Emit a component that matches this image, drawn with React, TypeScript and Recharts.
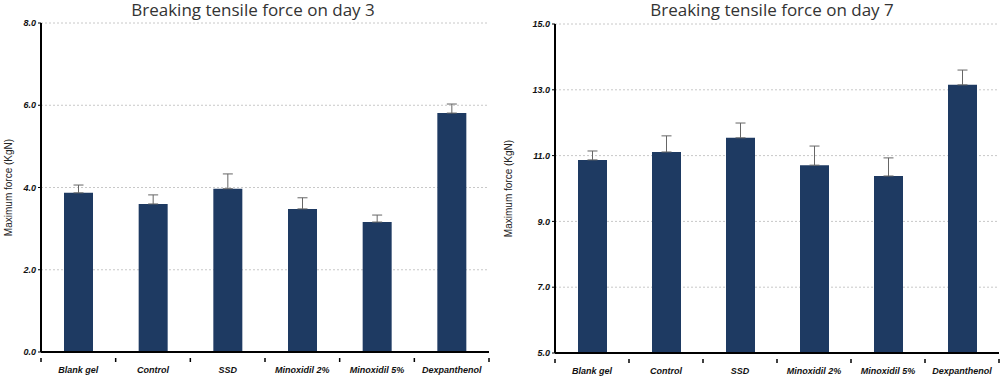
import { BarChart, Bar, XAxis, YAxis, CartesianGrid, ErrorBar } from "recharts";

const categories = ["Blank gel", "Control", "SSD", "Minoxidil 2%", "Minoxidil 5%", "Dexpanthenol"];

const day3Values = [3.87, 3.6, 3.97, 3.48, 3.16, 5.81];
const day3Errors = [0.19, 0.22, 0.36, 0.27, 0.17, 0.22];
const day3Ticks = [0, 2, 4, 6, 8];

const day7Values = [10.87, 11.11, 11.54, 10.71, 10.38, 13.15];
const day7Errors = [0.27, 0.49, 0.45, 0.58, 0.55, 0.45];
const day7Ticks = [5, 7, 9, 11, 13, 15];

const BAR_COLOR = "#1e3a62";
const FONT = "'Liberation Sans', Arial, sans-serif";

function buildRows(values: number[], errors: number[]) {
  return categories.map((name, i) => ({
    name,
    value: values[i],
    err: [0, errors[i]],
  }));
}

function YLabel(props: any) {
  const vb = props.viewBox || {};
  const x = (vb.x || 0) + 8;
  const y = (vb.y || 0) + (vb.height || 0) / 2;
  return (
    <text
      x={x}
      y={y}
      transform={`rotate(-90, ${x}, ${y})`}
      textAnchor="middle"
      dominantBaseline="central"
      fontSize={10}
      fontFamily={FONT}
      fill="#222"
    >
      Maximum force (KgN)
    </text>
  );
}

// category label plus tick marks on the band edges (Excel style)
function CategoryTick(props: any) {
  const { x, y, payload, index, visibleTicksCount } = props;
  const half = payload?.offset ?? 0;
  const axisY = y - 6;
  const isLast = index === (visibleTicksCount ?? categories.length) - 1;
  return (
    <g>
      <line x1={x - half} x2={x - half} y1={axisY} y2={axisY + 4} stroke="#000" strokeWidth={1.5} />
      {isLast && <line x1={x + half} x2={x + half} y1={axisY} y2={axisY + 4} stroke="#000" strokeWidth={1.5} />}
      <text
        x={x}
        y={y + 9}
        textAnchor="middle"
        fontSize={9}
        fontStyle="italic"
        fontWeight={700}
        fill="#111"
        fontFamily={FONT}
      >
        {payload.value}
      </text>
    </g>
  );
}

interface PanelProps {
  title: string;
  values: number[];
  errors: number[];
  ticks: number[];
  domain: [number, number];
  yWidth: number;
  top: number;
  right: number;
  xHeight: number;
  titleCenter: number;
}

function Panel({ title, values, errors, ticks, domain, yWidth, top, right, xHeight, titleCenter }: PanelProps) {
  const data = buildRows(values, errors);
  return (
    <div style={{ position: "relative", width: 500, height: 376 }}>
      <div
        style={{
          position: "absolute",
          top: 0,
          left: titleCenter - 200,
          width: 400,
          textAlign: "center",
          fontFamily: "'Open Sans', sans-serif",
          fontSize: 17,
          lineHeight: "20px",
          color: "#333",
          whiteSpace: "nowrap",
        }}
      >
        {title}
      </div>
      <BarChart
        width={500}
        height={376}
        data={data}
        margin={{ top, right, left: 0, bottom: 0 }}
        barSize={29}
      >
        <CartesianGrid vertical={false} stroke="#c8c8c8" strokeDasharray="2 2" />
        <XAxis
          dataKey="name"
          height={xHeight}
          axisLine={{ stroke: "#000", strokeWidth: 2 }}
          tickLine={false}
          interval={0}
          tick={<CategoryTick />}
          tickMargin={6}
        />
        <YAxis
          domain={domain}
          ticks={ticks}
          width={yWidth}
          interval={0}
          axisLine={{ stroke: "#000", strokeWidth: 2 }}
          tickLine={{ stroke: "#000" }}
          tickSize={3}
          tickFormatter={(v: number) => v.toFixed(1)}
          tick={{ fontSize: 9, fontStyle: "italic", fontWeight: 700, fill: "#111", fontFamily: FONT }}
          label={<YLabel />}
        />
        <Bar dataKey="value" fill={BAR_COLOR} isAnimationActive={false}>
          <ErrorBar dataKey="err" width={5} stroke="#666" strokeWidth={1} direction="y" />
        </Bar>
      </BarChart>
    </div>
  );
}

export default function App() {
  return (
    <div
      style={{
        position: "absolute",
        left: 0,
        top: 0,
        width: 1000,
        height: 376,
        background: "#fff",
        display: "flex",
        overflow: "hidden",
      }}
    >
      <Panel
        title="Breaking tensile force on day 3"
        values={day3Values}
        errors={day3Errors}
        ticks={day3Ticks}
        domain={[0, 8]}
        yWidth={41}
        top={23}
        right={11}
        xHeight={24}
        titleCenter={253}
      />
      <Panel
        title="Breaking tensile force on day 7"
        values={day7Values}
        errors={day7Errors}
        ticks={day7Ticks}
        domain={[5, 15]}
        yWidth={55}
        top={24}
        right={1}
        xHeight={23}
        titleCenter={272}
      />
    </div>
  );
}
